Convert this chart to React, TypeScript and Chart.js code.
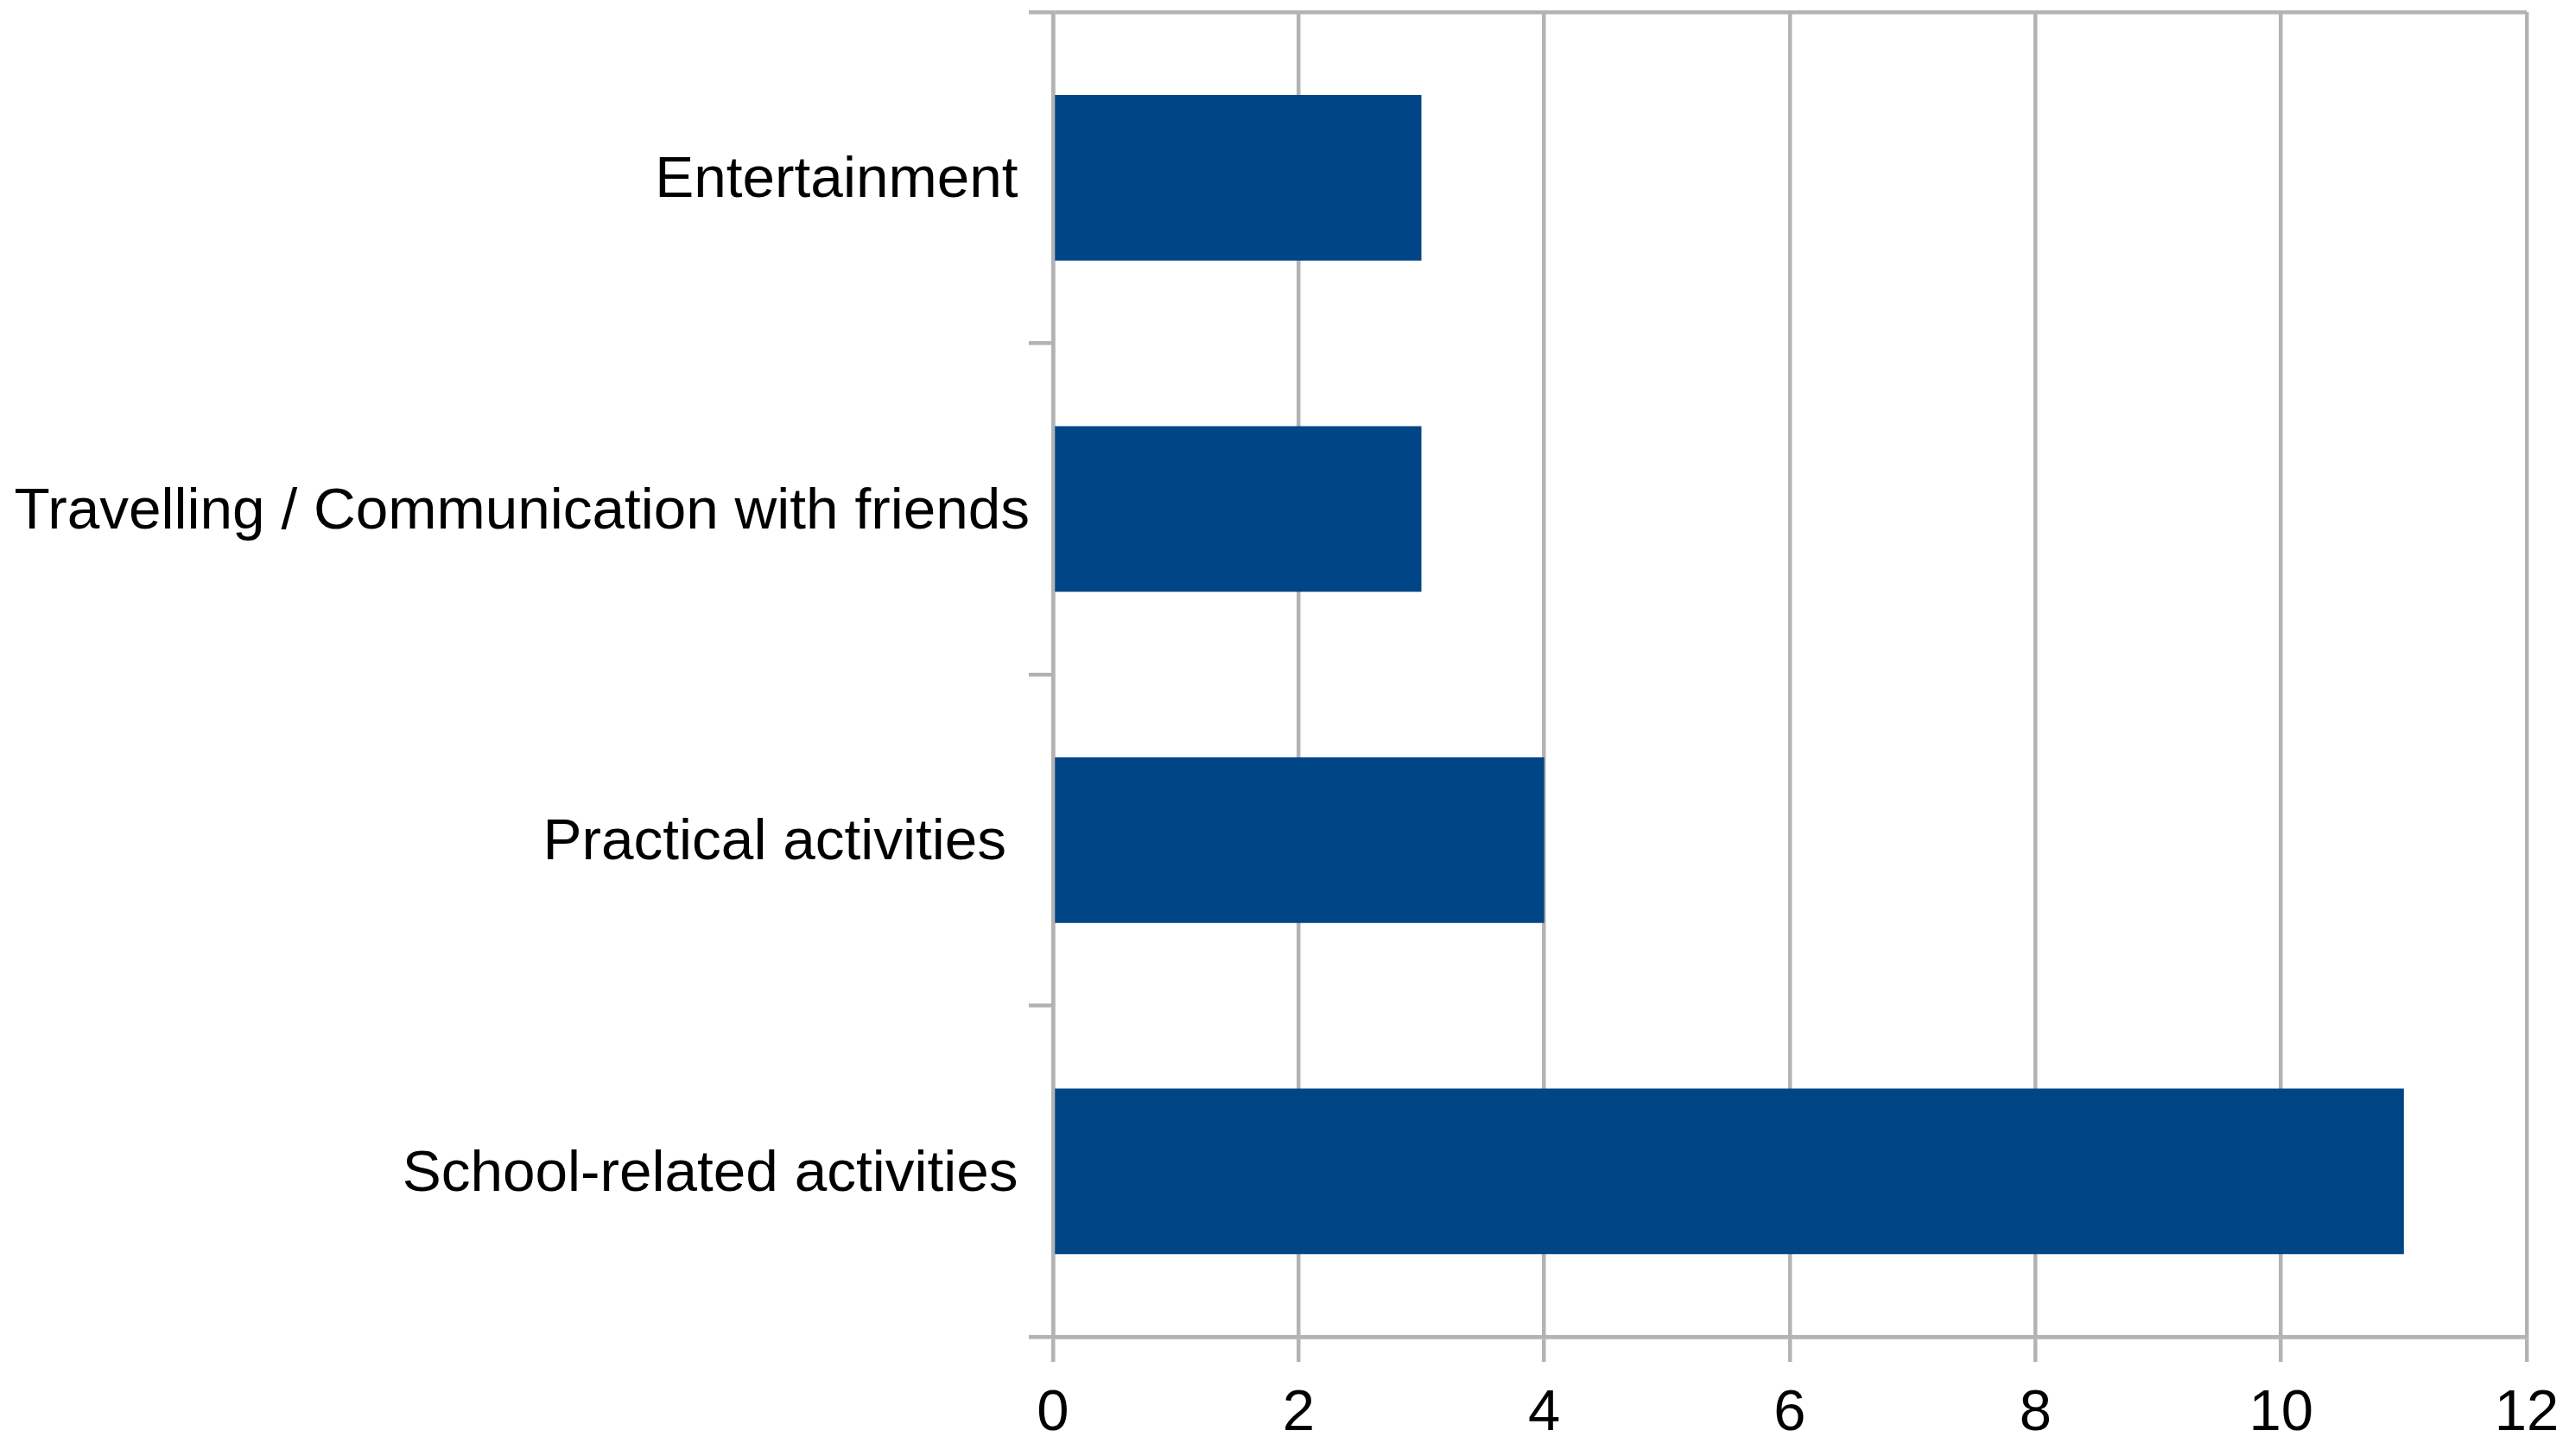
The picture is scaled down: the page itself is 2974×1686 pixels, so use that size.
import React, { useEffect, useRef } from "react";
import { Chart, registerables } from "chart.js";

Chart.register(...registerables);

const categories = [
  "Entertainment\u2009",
  "Travelling / Communication with friends",
  "Practical activities\u2009\u2009",
  "School-related activities\u2009",
];
const values = [3, 3, 4, 11];
const xTicks = [0, 2, 4, 6, 8, 10, 12];

const GRID = "#b3b3b3";
const BAR = "#004586";
const FONT = "'Liberation Sans', Arial, sans-serif";

export default function App() {
  const ref = useRef<HTMLCanvasElement | null>(null);

  useEffect(() => {
    if (!ref.current) return;
    const chart = new Chart(ref.current, {
      type: "bar",
      data: {
        labels: categories,
        datasets: [
          {
            data: values,
            backgroundColor: BAR,
            borderWidth: 0,
            barPercentage: 0.5,
            categoryPercentage: 1,
          },
        ],
      },
      options: {
        indexAxis: "y",
        responsive: false,
        animation: false,
        devicePixelRatio: 1,
        layout: { padding: { top: 14, right: 49, bottom: 0, left: 0 } },
        plugins: { legend: { display: false }, tooltip: { enabled: false } },
        scales: {
          x: {
            type: "linear",
            min: 0,
            max: 12,
            afterBuildTicks: (scale: any) => {
              scale.ticks = xTicks.map((v) => ({ value: v }));
            },
            afterFit: (scale: any) => {
              scale.height = 138;
              scale.paddingLeft = 0;
              scale.paddingRight = 0;
            },
            grid: {
              color: GRID,
              lineWidth: 4.5,
              tickLength: 29,
              tickColor: GRID,
              drawTicks: true,
            },
            border: { color: GRID, width: 4.5 },
            ticks: {
              color: "#000",
              font: { family: FONT, size: 67 },
              padding: 20,
              maxRotation: 0,
            },
          },
          y: {
            type: "category",
            afterFit: (scale: any) => {
              scale.width = 1219;
              scale.paddingTop = 0;
              scale.paddingBottom = 0;
            },
            grid: {
              offset: true,
              color: (ctx: any) =>
                ctx.index === 0 || ctx.type === "scale" ? GRID : "rgba(0,0,0,0)",
              lineWidth: 4.5,
              tickLength: 28,
              tickColor: GRID,
              drawTicks: true,
            },
            border: { color: GRID, width: 4.5 },
            ticks: {
              color: "#000",
              font: { family: FONT, size: 67.5 },
              padding: -1,
              labelOffset: 4,
              autoSkip: false,
            },
          },
        },
      },
    });
    return () => chart.destroy();
  }, []);

  return (
    <canvas
      ref={ref}
      width={2974}
      height={1686}
      style={{ position: "fixed", left: 0, top: 0, display: "block", background: "#fff" }}
    />
  );
}
